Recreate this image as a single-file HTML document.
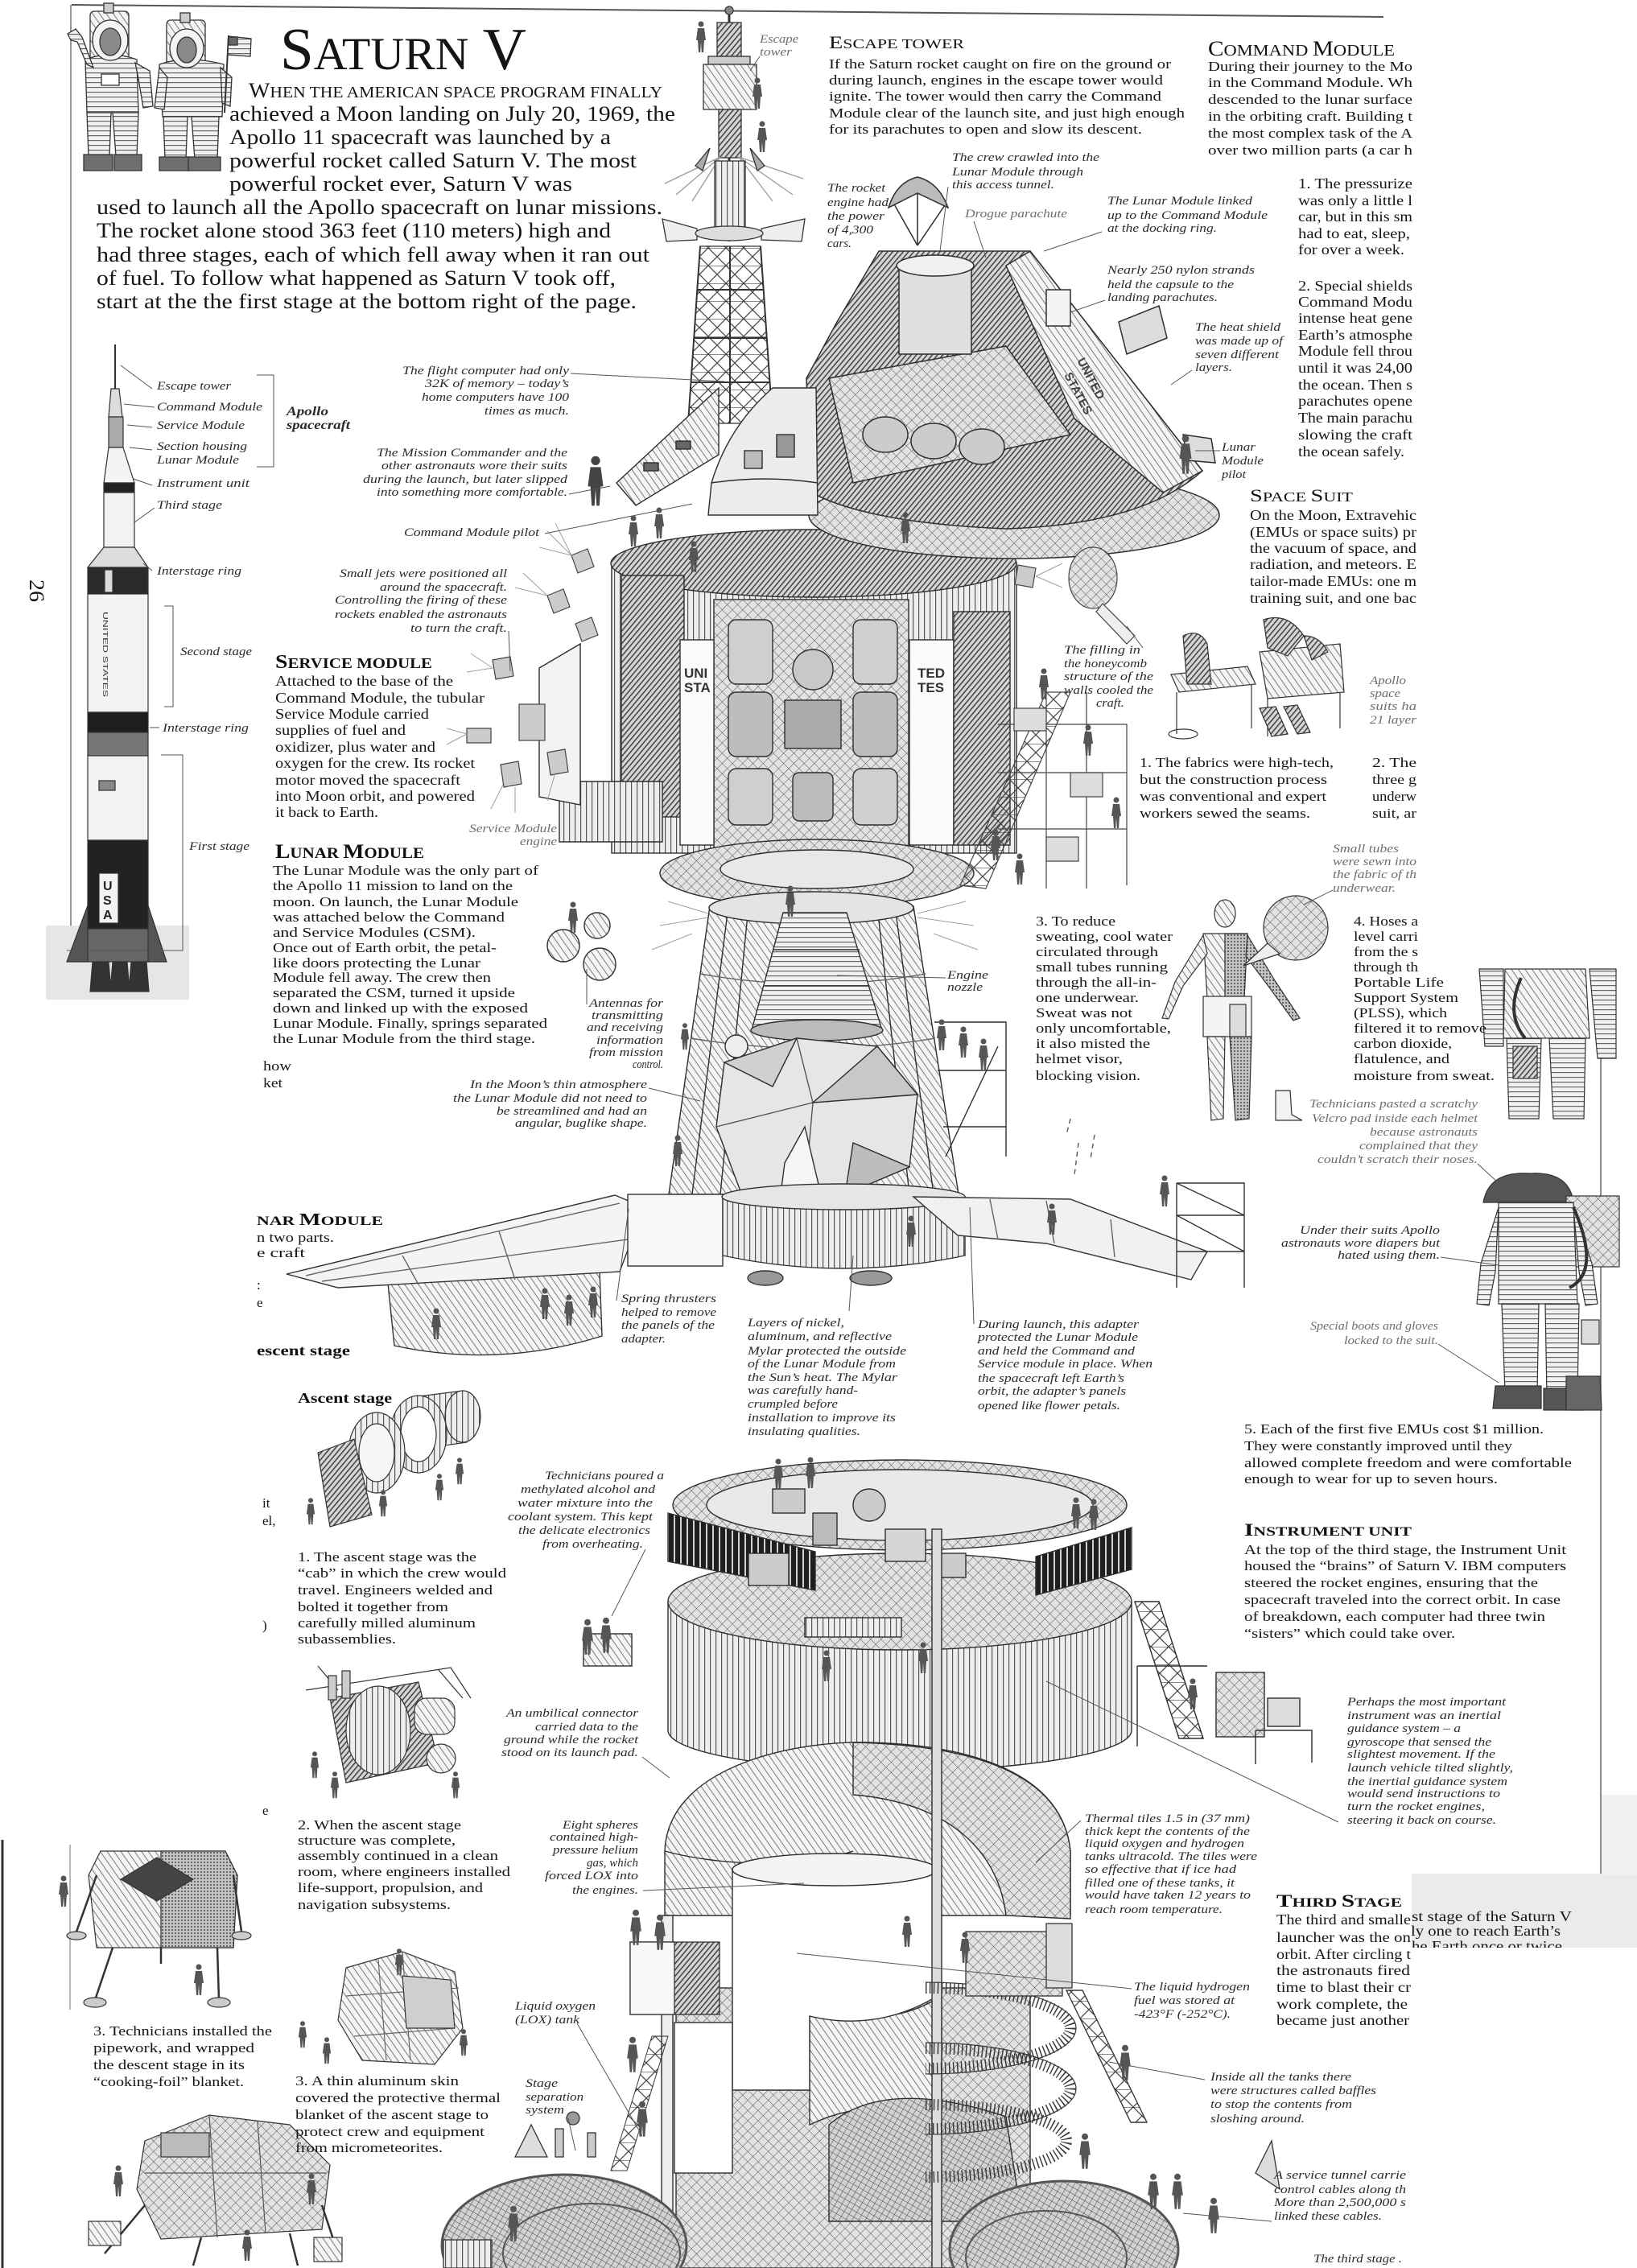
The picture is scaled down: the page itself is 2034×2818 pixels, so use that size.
<!DOCTYPE html>
<html><head><meta charset="utf-8"><title>Saturn V</title>
<style>
html,body{margin:0;padding:0;background:#fff}
svg{display:block}
.t{font-family:"Liberation Serif",serif;fill:#151515}
.b17{font-size:17px}
.b18{font-size:18px}
.in{font-size:26px}
.i{font-family:"Liberation Serif",serif;font-style:italic;fill:#2a2a2a;font-size:15px}
.ig{font-family:"Liberation Serif",serif;font-style:italic;fill:#6e6e6e;font-size:15px}
.hb{font-family:"Liberation Serif",serif;fill:#111;font-weight:bold}
.hr{font-family:"Liberation Serif",serif;fill:#111}
</style></head><body>
<svg width="2034" height="2818" viewBox="0 0 2034 2818" xmlns="http://www.w3.org/2000/svg">
<defs>
<pattern id="hd" width="5" height="5" patternUnits="userSpaceOnUse" patternTransform="rotate(40)"><rect width="5" height="5" fill="#d6d6d6"/><rect width="1.6" height="5" fill="#474747"/></pattern>
<pattern id="hl" width="7" height="7" patternUnits="userSpaceOnUse" patternTransform="rotate(-35)"><rect width="7" height="7" fill="#f5f5f5"/><rect width="1" height="7" fill="#7a7a7a"/></pattern>
<pattern id="vl" width="7" height="10" patternUnits="userSpaceOnUse"><rect width="7" height="10" fill="#eeeeee"/><rect width="1.2" height="10" fill="#555"/></pattern>
<pattern id="vd" width="8" height="10" patternUnits="userSpaceOnUse"><rect width="8" height="10" fill="#1e1e1e"/><rect x="5" width="2" height="10" fill="#d0d0d0"/></pattern>
<pattern id="gr" width="9" height="9" patternUnits="userSpaceOnUse" patternTransform="rotate(45)"><rect width="9" height="9" fill="#e2e2e2"/><path d="M0 0H9M0 0V9" stroke="#555" stroke-width="1"/></pattern>
<pattern id="gd" width="7" height="7" patternUnits="userSpaceOnUse" patternTransform="rotate(30)"><rect width="7" height="7" fill="#d2d2d2"/><path d="M0 0H7M0 0V7" stroke="#444" stroke-width="1"/></pattern>
<pattern id="hz" width="10" height="6" patternUnits="userSpaceOnUse"><rect width="10" height="6" fill="#f2f2f2"/><rect width="10" height="1.2" fill="#666"/></pattern>
<pattern id="dt" width="4" height="4" patternUnits="userSpaceOnUse"><rect width="4" height="4" fill="#c4c4c4"/><circle cx="2" cy="2" r="1" fill="#444"/></pattern>
<pattern id="lat" width="22" height="22" patternUnits="userSpaceOnUse"><path d="M0 0L22 22M22 0L0 22M0 0H22" stroke="#444" stroke-width="1.2" fill="none"/></pattern>
<symbol id="man" viewBox="0 0 14 40"><circle cx="7" cy="4" r="3.5"/><path d="M3,9 H11 L13,24 H11 L10,39 H7.8 L7,26 L6.2,39 H4 L3,24 H1 Z"/></symbol>
<clipPath id="cR"><rect x="1700" y="2300" width="334" height="120"/></clipPath>
</defs>
<rect width="2034" height="2818" fill="#fff"/>

<g fill="none">
<path d="M89,6 L1719,21" stroke="#555" stroke-width="2"/>
<path d="M88,6 V1242" stroke="#777" stroke-width="1.5"/>
<path d="M3,2286 V2818" stroke="#333" stroke-width="3"/>
<path d="M87,2292 V2497" stroke="#888" stroke-width="1.2"/>
<path d="M1989,1250 V2420" stroke="#666" stroke-width="1.5"/>
</g>
<rect x="1754" y="2328" width="280" height="92" fill="#ebebeb"/>
<rect x="1990" y="2230" width="44" height="100" fill="#f1f1f1"/>

<!-- ASTRONAUTS -->
<g stroke="#333" stroke-width="1.3">
 <rect x="112" y="14" width="48" height="62" rx="5" fill="url(#hl)"/>
 <rect x="129" y="4" width="12" height="12" fill="#ccc"/>
 <path d="M106,74 Q137,62 170,74 L172,140 L108,140 Z" fill="url(#hz)"/>
 <ellipse cx="137" cy="50" rx="22" ry="25" fill="#f4f4f4"/>
 <ellipse cx="137" cy="52" rx="13" ry="17" fill="#8a8a8a"/>
 <path d="M108,80 L96,52 L88,50 L84,42 L94,36 L102,46 L116,84 Z" fill="url(#hz)"/>
 <path d="M168,78 L186,88 L190,132 L178,134 L172,98 Z" fill="url(#hz)"/>
 <path d="M108,140 L138,140 L136,194 L110,194 Z" fill="url(#hz)"/>
 <path d="M140,140 L172,140 L170,194 L144,194 Z" fill="url(#hz)"/>
 <path d="M104,192 L140,192 L140,212 L104,212 Z" fill="#6e6e6e"/>
 <path d="M142,192 L176,192 L176,212 L142,212 Z" fill="#6e6e6e"/>
 <rect x="126" y="92" width="22" height="14" fill="#fff"/>
 <rect x="207" y="25" width="48" height="56" rx="5" fill="url(#hl)"/>
 <rect x="224" y="16" width="12" height="12" fill="#ccc"/>
 <path d="M198,80 Q232,68 278,80 L276,145 L202,145 Z" fill="url(#hz)"/>
 <ellipse cx="232" cy="60" rx="21" ry="24" fill="#f4f4f4"/>
 <ellipse cx="232" cy="62" rx="12" ry="16" fill="#8a8a8a"/>
 <path d="M198,84 L192,134 L204,136 L208,96 Z" fill="url(#hz)"/>
 <path d="M274,84 L288,96 L286,132 L276,128 Z" fill="url(#hz)"/>
 <path d="M203,145 L233,145 L231,198 L205,198 Z" fill="url(#hz)"/>
 <path d="M238,145 L272,145 L270,198 L242,198 Z" fill="url(#hz)"/>
 <path d="M198,195 L236,195 L236,212 L198,212 Z" fill="#6e6e6e"/>
 <path d="M234,195 L274,195 L274,212 L234,212 Z" fill="#6e6e6e"/>
 <line x1="284" y1="44" x2="279" y2="140" stroke-width="2"/>
 <path d="M284,45 L312,48 L311,70 L283,68 Z" fill="url(#hz)"/>
 <rect x="284" y="46" width="11" height="10" fill="#666"/>
</g>

<!-- ESCAPE TOWER + LAUNCH TOWER -->
<g stroke="#333" stroke-width="1.3">
 <line x1="906" y1="10" x2="906" y2="300" stroke-width="3"/>
 <circle cx="906" cy="13" r="5" fill="#888"/>
 <rect x="891" y="28" width="30" height="42" fill="url(#hd)"/>
 <rect x="880" y="70" width="52" height="10" fill="#ccc"/>
 <rect x="874" y="80" width="66" height="56" fill="url(#hl)"/>
 <rect x="893" y="136" width="28" height="60" fill="url(#hd)"/>
 <path d="M895,195 L826,228 M895,195 L840,242 M895,195 L860,250 M918,195 L998,222 M918,195 L985,242 M918,195 L960,250" stroke="#9a9a9a" fill="none"/>
 <path d="M882,184 l-18,22 l9,6 z M932,184 l18,22 l-9,6 z" fill="#aaa"/>
 <rect x="888" y="200" width="38" height="85" fill="url(#vl)"/>
 <path d="M866,284 L823,272 L828,300 L866,298 Z M946,284 L1000,272 L996,300 L946,298 Z" fill="#eee"/>
 <ellipse cx="906" cy="290" rx="42" ry="9" fill="#ddd"/>
 <path d="M870,306 L945,306 L960,526 L855,526 Z" fill="url(#lat)"/>
 <path d="M870,306 L855,526 M945,306 L960,526 M907,306 V526 M866,360 H949 M862,420 H953 M858,475 H957" fill="none" stroke-width="2"/>
</g>
<use href="#man" x="864" y="26" width="14" height="40" fill="#555"/>
<use href="#man" x="934" y="96" width="14" height="40" fill="#555"/>
<use href="#man" x="940" y="150" width="14" height="40" fill="#555"/>

<!-- SERVICE MODULE -->
<g stroke="#2e2e2e" stroke-width="1.4">
 <rect x="760" y="700" width="503" height="360" fill="url(#vl)"/>
 <ellipse cx="1011" cy="700" rx="252" ry="42" fill="url(#hd)"/>
 <rect x="772" y="715" width="78" height="300" fill="url(#hd)"/>
 <rect x="887" y="745" width="242" height="330" fill="url(#gr)"/>
 <rect x="905" y="770" width="55" height="80" rx="10" fill="#cfcfcf"/>
 <rect x="905" y="860" width="55" height="80" rx="10" fill="#bdbdbd"/>
 <rect x="1060" y="770" width="55" height="80" rx="10" fill="#cfcfcf"/>
 <rect x="1060" y="860" width="55" height="80" rx="10" fill="#bdbdbd"/>
 <circle cx="1010" cy="832" r="25" fill="#c8c8c8"/>
 <rect x="975" y="870" width="70" height="60" fill="#aaa"/>
 <rect x="985" y="960" width="50" height="60" rx="8" fill="#bbb"/>
 <rect x="905" y="955" width="55" height="70" rx="10" fill="#cfcfcf"/>
 <rect x="1060" y="955" width="55" height="70" rx="10" fill="#cfcfcf"/>
 <rect x="845" y="795" width="42" height="255" fill="#fafafa"/>
 <rect x="1130" y="795" width="55" height="255" fill="#fafafa"/>
 <rect x="1185" y="760" width="70" height="290" fill="url(#hd)"/>
 <path d="M695,971 L823,971 L823,1046 L695,1046 Z" fill="url(#vl)"/>
 <path d="M670,830 L721,800 L721,1000 L670,990 Z" fill="#f3f3f3"/>
 <ellipse cx="1015" cy="1085" rx="195" ry="42" fill="url(#gr)"/>
 <ellipse cx="1015" cy="1080" rx="120" ry="24" fill="#e8e8e8"/>
</g>
<g font-family="Liberation Sans, sans-serif" font-size="17" font-weight="bold" fill="#333">
 <text x="850" y="842">UNI</text><text x="850" y="860">STA</text>
 <text x="1140" y="842">TED</text><text x="1140" y="860">TES</text>
</g>

<!-- BIG COMMAND MODULE -->
<g stroke="#2e2e2e" stroke-width="1.5">
 <ellipse cx="1260" cy="640" rx="255" ry="54" fill="url(#gr)"/>
 <path d="M1092,312 L1280,312 L1494,585 Q1420,652 1250,657 Q1080,650 1008,612 L1002,470 L1040,400 Z" fill="url(#hd)"/>
 <path d="M1280,312 L1494,585 L1445,612 L1335,520 L1250,330 Z" fill="url(#hl)"/>
 <path d="M1030,470 L1250,430 L1330,540 L1060,600 Z" fill="url(#gr)"/>
 <rect x="1117" y="330" width="90" height="110" fill="#e0e0e0"/>
 <ellipse cx="1162" cy="330" rx="48" ry="13" fill="#f0f0f0"/>
 <path d="M1140,305 L1110,252 M1140,305 L1176,252 M1140,305 L1140,228" fill="none"/>
 <path d="M1104,258 Q1114,226 1140,220 Q1166,226 1178,258 L1140,240 Z" fill="#bbb"/>
 <rect x="1300" y="360" width="30" height="45" fill="#f4f4f4"/>
 <ellipse cx="1100" cy="540" rx="28" ry="22" fill="#ccc"/>
 <ellipse cx="1160" cy="548" rx="28" ry="22" fill="#ccc"/>
 <ellipse cx="1220" cy="555" rx="28" ry="22" fill="#ccc"/>
 <path d="M1390,400 L1440,380 L1450,420 L1400,440 Z M1470,540 L1505,545 L1510,575 L1475,572 Z" fill="#ddd"/>
</g>
<text transform="translate(1338,448) rotate(62)" font-family="Liberation Sans,sans-serif" font-size="15" font-weight="bold" fill="#444">UNITED</text>
<text transform="translate(1322,466) rotate(62)" font-family="Liberation Sans,sans-serif" font-size="15" font-weight="bold" fill="#444">STATES</text>
<use href="#man" x="1464" y="540" width="18" height="50" fill="#555"/>

<g stroke="#2e2e2e" stroke-width="1.4">
 <path d="M960,482 L1014,482 L1016,640 L880,640 L884,600 Q905,530 960,482 Z" fill="#ececec"/>
 <path d="M884,600 Q950,590 1016,600" fill="none"/>
 <rect x="965" y="540" width="22" height="28" fill="#999"/>
 <rect x="925" y="560" width="22" height="22" fill="#bbb"/>
 <path d="M766,600 L893,482 L893,565 L790,628 Z" fill="url(#hl)"/>
 <rect x="800" y="575" width="18" height="10" fill="#666"/>
 <rect x="840" y="548" width="18" height="10" fill="#666"/>
</g>
<use href="#man" x="728" y="566" width="24" height="64" fill="#444"/>
<use href="#man" x="780" y="640" width="14" height="40" fill="#555"/>
<use href="#man" x="812" y="630" width="14" height="40" fill="#555"/>
<use href="#man" x="1118" y="636" width="14" height="40" fill="#555"/>
<use href="#man" x="855" y="672" width="14" height="40" fill="#555"/>

<g stroke="#444" stroke-width="1.2" fill="#ccc">
 <path d="M710,690 l20,-8 l8,22 l-20,8 z"/><path d="M680,740 l20,-8 l8,22 l-20,8 z"/>
 <path d="M715,775 l20,-8 l8,22 l-20,8 z"/><path d="M612,820 l22,-4 l4,24 l-22,4 z"/>
 <rect x="645" y="875" width="32" height="45"/><path d="M580,905 l30,0 l0,18 l-30,0 z"/>
 <path d="M622,950 l22,-4 l4,28 l-22,4 z"/><path d="M680,935 l22,-4 l4,28 l-22,4 z"/>
 <path d="M1265,702 l22,4 l-4,24 l-22,-4 z"/>
</g>
<g stroke="#a0a0a0" stroke-width="1" fill="none">
 <path d="M710,690 L680,660 M710,690 L670,680 M710,690 L690,650 M680,740 L640,730 M680,740 L650,712 M612,830 L585,812 M612,830 L580,835 M580,912 L555,905 M580,912 L555,925 M625,975 L610,1005 M640,978 L640,1010 M690,960 L680,995 M1287,716 L1320,700 M1287,716 L1320,730"/>
 <path d="M880,1135 L830,1120 M880,1140 L820,1150 M1140,1135 L1200,1120 M1140,1140 L1210,1150 M860,1160 L810,1180 M1160,1160 L1215,1180"/>
</g>
<g stroke="#444" stroke-width="1.2" fill="none">
 <path d="M1193,1100 L1300,860 L1330,860 L1225,1104 Z" fill="url(#lat)"/>
 <path d="M1240,900 H1400 V1100 M1240,960 H1400 M1240,1030 H1400 M1300,860 V1104 M1350,860 V1104"/>
 <rect x="1260" y="880" width="40" height="28" fill="#ddd"/><rect x="1330" y="960" width="40" height="30" fill="#ddd"/><rect x="1300" y="1040" width="40" height="30" fill="#ddd"/>
 <ellipse cx="1358" cy="718" rx="30" ry="38" fill="url(#gr)"/>
 <path d="M1370,750 L1410,790 L1400,800 L1362,760 Z" fill="#eee"/>
</g>
<use href="#man" x="1290" y="830" width="14" height="40" fill="#555"/>
<use href="#man" x="1345" y="900" width="14" height="40" fill="#555"/>
<use href="#man" x="1380" y="990" width="14" height="40" fill="#555"/>
<use href="#man" x="1230" y="1030" width="14" height="40" fill="#555"/>
<use href="#man" x="1260" y="1060" width="14" height="40" fill="#555"/>

<!-- ENGINE + ADAPTER + LM -->
<g stroke="#2e2e2e" stroke-width="1.4">
 <path d="M882,1126 L1135,1126 L1191,1484 L831,1484 Z" fill="url(#hl)"/>
 <path d="M905,1126 L860,1484 M930,1126 L895,1484 M1112,1126 L1160,1484 M1090,1126 L1130,1484" fill="none"/>
 <path d="M870,1210 Q1010,1235 1150,1210 M858,1290 Q1010,1315 1162,1290" fill="none" stroke="#666"/>
 <ellipse cx="1008" cy="1128" rx="127" ry="20" fill="#e4e4e4"/>
 <path d="M973,1134 L1052,1134 L1096,1280 L934,1280 Z" fill="url(#hz)"/>
 <path d="M960,1180 H1068 M950,1225 H1080" fill="none"/>
 <ellipse cx="1015" cy="1280" rx="82" ry="13" fill="#bbb"/>
 <path d="M900,1320 L990,1290 L1090,1300 L1140,1360 L1130,1450 L1050,1484 L920,1480 L890,1400 Z" fill="#e6e6e6"/>
 <path d="M990,1290 L1010,1370 L1090,1300 M1010,1370 L1140,1360 M1010,1370 L1000,1484 M890,1400 L1010,1370 M1060,1420 L1130,1450" fill="none" stroke="#555"/>
 <path d="M1010,1370 L1090,1300 L1140,1360 Z" fill="#c8c8c8"/>
 <path d="M1060,1420 L1130,1450 L1050,1484 Z" fill="#bdbdbd"/>
 <path d="M900,1320 L990,1290 L960,1350 Z" fill="#d0d0d0"/>
 <path d="M975,1445 L1000,1400 L1020,1484 L970,1484 Z" fill="#f6f6f6"/>
 <circle cx="915" cy="1300" r="14" fill="#eee"/>
 <path d="M1161,1270 L1250,1270 L1250,1437 M1165,1330 H1250 M1172,1400 H1250 M1175,1437 L1240,1300" fill="none"/>
 <circle cx="700" cy="1175" r="20" fill="url(#hl)"/><circle cx="745" cy="1198" r="20" fill="url(#hl)"/><circle cx="742" cy="1150" r="16" fill="url(#hl)"/>
</g>
<use href="#man" x="705" y="1120" width="14" height="40" fill="#555"/>
<use href="#man" x="1163" y="1266" width="14" height="40" fill="#555"/>
<use href="#man" x="1190" y="1275" width="14" height="40" fill="#555"/>
<use href="#man" x="1215" y="1290" width="14" height="40" fill="#555"/>
<use href="#man" x="835" y="1410" width="14" height="40" fill="#555"/>
<use href="#man" x="845" y="1270" width="12" height="36" fill="#555"/>
<use href="#man" x="975" y="1100" width="14" height="40" fill="#555"/>

<!-- ADAPTER PANELS -->
<g stroke="#333" stroke-width="1.4">
 <path d="M482,1595 L745,1578 L748,1660 Q620,1700 490,1672 Z" fill="url(#hl)"/>
 <path d="M356,1583 L764,1485 L800,1500 L770,1580 L420,1600 Z" fill="#f4f4f4"/>
 <path d="M380,1585 L770,1495 M400,1592 L780,1540 M500,1560 L520,1596 M620,1530 L640,1590" fill="none" stroke="#666"/>
 <rect x="780" y="1484" width="118" height="89" fill="#f7f7f7"/>
 <path d="M898,1487 L1199,1487 L1199,1560 Q1048,1592 898,1560 Z" fill="url(#vl)"/>
 <ellipse cx="1048" cy="1487" rx="151" ry="16" fill="#e6e6e6"/>
 <ellipse cx="951" cy="1588" rx="22" ry="9" fill="#999"/><ellipse cx="1082" cy="1588" rx="26" ry="9" fill="#999"/>
 <path d="M1135,1487 L1330,1490 L1500,1555 L1480,1590 L1300,1545 L1190,1535 Z" fill="#f1f1f1"/>
 <path d="M1230,1490 L1240,1540 M1300,1492 L1310,1545 M1380,1515 L1385,1562" fill="none" stroke="#666"/>
 <path d="M1462,1470 H1546 V1600 M1462,1470 V1600 M1462,1510 H1546 M1462,1555 H1546 M1462,1470 L1546,1510 M1462,1510 L1546,1555" fill="none"/>
 <path d="M1340,1420 L1335,1460 M1330,1390 L1325,1410 M1360,1410 L1355,1440" stroke="#555" stroke-dasharray="6 5" fill="none"/>
</g>
<use href="#man" x="670" y="1600" width="14" height="40" fill="#555"/>
<use href="#man" x="700" y="1608" width="14" height="40" fill="#555"/>
<use href="#man" x="730" y="1598" width="14" height="40" fill="#555"/>
<use href="#man" x="535" y="1625" width="14" height="40" fill="#555"/>
<use href="#man" x="1300" y="1495" width="14" height="40" fill="#555"/>
<use href="#man" x="1440" y="1460" width="14" height="40" fill="#555"/>
<use href="#man" x="1125" y="1510" width="14" height="40" fill="#555"/>

<!-- INSTRUMENT UNIT -->
<g stroke="#2e2e2e" stroke-width="1.4">
 <path d="M830,1990 V2150 A288,50 0 0 0 1406,2150 V1990 Z" fill="url(#vl)"/>
 <ellipse cx="1118" cy="1990" rx="288" ry="60" fill="url(#gr)"/>
 <ellipse cx="1118" cy="1870" rx="282" ry="56" fill="url(#gr)"/>
 <ellipse cx="1118" cy="1870" rx="240" ry="44" fill="#e9e9e9"/>
 <path d="M830,1880 L1013,1928 L1013,1976 L830,1940 Z" fill="url(#vd)"/>
 <path d="M1287,1934 L1406,1898 L1406,1950 L1287,1982 Z" fill="url(#vd)"/>
 <rect x="960" y="1850" width="40" height="30" fill="#ccc"/><rect x="1010" y="1880" width="30" height="40" fill="#bbb"/>
 <circle cx="1080" cy="1870" r="20" fill="#ccc"/><rect x="1100" y="1900" width="50" height="40" fill="#d6d6d6"/>
 <rect x="1160" y="1930" width="40" height="30" fill="#ccc"/><rect x="930" y="1930" width="50" height="40" fill="#ccc"/>
 <rect x="1000" y="2010" width="120" height="24" fill="url(#vl)"/>
 <path d="M1410,1990 L1440,1990 L1495,2160 L1465,2160 Z" fill="url(#lat)"/>
 <path d="M1413,2070 H1500 M1413,2070 V2170" fill="none"/>
 <rect x="1511" y="2078" width="60" height="80" fill="url(#gr)"/>
 <rect x="1575" y="2110" width="40" height="35" fill="#ddd"/>
 <path d="M1560,2150 H1630 V2190 M1560,2150 V2192" fill="none"/>
 <rect x="725" y="2030" width="60" height="40" fill="url(#hl)"/>
</g>
<use href="#man" x="722" y="2010" width="16" height="48" fill="#555"/>
<use href="#man" x="745" y="2008" width="16" height="48" fill="#555"/>
<use href="#man" x="1330" y="1860" width="14" height="40" fill="#555"/>
<use href="#man" x="1352" y="1862" width="14" height="40" fill="#555"/>
<use href="#man" x="1475" y="2085" width="14" height="40" fill="#555"/>
<use href="#man" x="960" y="1812" width="14" height="40" fill="#555"/>
<use href="#man" x="1000" y="1810" width="14" height="40" fill="#555"/>
<use href="#man" x="1020" y="2050" width="14" height="40" fill="#555"/>
<use href="#man" x="1140" y="2040" width="14" height="40" fill="#555"/>

<!-- THIRD STAGE -->
<g stroke="#2e2e2e" stroke-width="1.4">
 <path d="M826,2300 C830,2190 1000,2162 1080,2165 C1200,2168 1320,2200 1330,2300 L1330,2380 L826,2380 Z" fill="url(#hl)"/>
 <path d="M1060,2165 C1200,2168 1320,2200 1330,2300 L1330,2384 L1250,2380 C1240,2300 1180,2240 1060,2230 Z" fill="url(#gr)"/>
 <path d="M826,2300 C900,2320 1000,2320 1060,2300" fill="none"/>
 <rect x="840" y="2470" width="440" height="348" fill="url(#gr)"/>
 <path d="M1006,2480 Q1090,2530 1170,2480 L1170,2640 Q1090,2600 1006,2640 Z" fill="url(#hl)"/>
 <path d="M1030,2640 Q1100,2580 1250,2630 L1270,2760 L1030,2760 Z" fill="url(#gd)"/>
 <path d="M910,2323 H1165 V2480 Q1090,2525 1006,2505 V2597 H910 Z" fill="#fff"/>
 <rect x="838" y="2513" width="72" height="187" fill="#fff"/>
 <ellipse cx="1037" cy="2323" rx="127" ry="20" fill="#f4f4f4"/>
 <rect x="1158" y="1900" width="12" height="918" fill="#ddd"/>
 <rect x="822" y="2380" width="14" height="438" fill="#eee"/>
</g>
<g fill="none" stroke="#3a3a3a">
 <path d="M1150,2470 A180,50 0 0 1 1150,2570" stroke-width="14" stroke-dasharray="1.5 3.5"/>
 <path d="M1150,2545 A180,50 0 0 1 1150,2645" stroke-width="14" stroke-dasharray="1.5 3.5"/>
 <path d="M1150,2615 A175,45 0 0 1 1150,2705" stroke-width="14" stroke-dasharray="1.5 3.5"/>
 <path d="M1150,2463 A187,57 0 0 1 1150,2577 M1150,2538 A187,57 0 0 1 1150,2652" stroke-width="1.2"/>
 <path d="M1325,2473 L1405,2637 L1425,2637 L1345,2473 Z" fill="url(#lat)" stroke-width="1.4"/>
 <path d="M759,2697 L810,2530 L830,2530 L779,2697 Z" fill="url(#lat)"/>
</g>
<g stroke="#333" stroke-width="1.3">
 <rect x="783" y="2413" width="111" height="90" fill="url(#hd)"/>
 <rect x="783" y="2413" width="55" height="90" fill="#f8f8f8"/>
 <rect x="1200" y="2400" width="120" height="80" fill="url(#gr)"/>
 <rect x="1300" y="2390" width="32" height="80" fill="#ddd"/>
 <ellipse cx="701" cy="2790" rx="152" ry="88" fill="url(#gd)" stroke="#555" stroke-width="3"/>
 <ellipse cx="735" cy="2800" rx="110" ry="62" fill="none" stroke="#555" stroke-width="2"/>
 <rect x="551" y="2783" width="60" height="35" fill="url(#vl)"/>
 <ellipse cx="1322" cy="2795" rx="142" ry="85" fill="url(#gd)" stroke="#555" stroke-width="3"/>
 <ellipse cx="1300" cy="2805" rx="100" ry="58" fill="none" stroke="#555" stroke-width="2"/>
 <path d="M640,2680 L660,2640 L680,2680 Z M1560,2700 L1580,2660 L1590,2720 Z" fill="#ddd"/>
 <circle cx="712" cy="2632" r="8" fill="#999"/>
 <rect x="690" y="2645" width="10" height="35" fill="#ccc"/><rect x="730" y="2650" width="10" height="30" fill="#ccc"/>
</g>
<use href="#man" x="782" y="2372" width="16" height="46" fill="#555"/>
<use href="#man" x="812" y="2378" width="16" height="46" fill="#555"/>
<use href="#man" x="1120" y="2380" width="14" height="40" fill="#555"/>
<use href="#man" x="1192" y="2400" width="14" height="40" fill="#555"/>
<use href="#man" x="1390" y="2540" width="16" height="46" fill="#555"/>
<use href="#man" x="778" y="2530" width="16" height="46" fill="#555"/>
<use href="#man" x="790" y="2610" width="16" height="46" fill="#555"/>
<use href="#man" x="1340" y="2650" width="16" height="46" fill="#555"/>
<use href="#man" x="1425" y="2700" width="16" height="46" fill="#555"/>
<use href="#man" x="1455" y="2700" width="16" height="46" fill="#555"/>
<use href="#man" x="1500" y="2730" width="16" height="46" fill="#555"/>
<use href="#man" x="630" y="2740" width="16" height="46" fill="#555"/>

<!-- ROCKET DIAGRAM -->
<g stroke="#333" stroke-width="1.2">
 <rect x="57" y="1150" width="178" height="92" fill="#e6e6e6" stroke="none"/>
 <line x1="143" y1="428" x2="143" y2="483" stroke-width="2"/>
 <path d="M138,483 L148,483 L152,518 L135,518 Z" fill="#ddd"/>
 <rect x="135" y="518" width="18" height="38" fill="#aaa"/>
 <path d="M135,556 L153,556 L167,600 L129,600 Z" fill="#f4f4f4"/>
 <rect x="129" y="600" width="38" height="12" fill="#222"/>
 <rect x="129" y="612" width="38" height="68" fill="#f2f2f2"/>
 <path d="M129,680 L167,680 L184,705 L109,705 Z" fill="#ddd"/>
 <rect x="109" y="705" width="75" height="33" fill="#2a2a2a"/>
 <rect x="130" y="708" width="10" height="28" fill="#ddd"/>
 <rect x="109" y="738" width="75" height="147" fill="#f3f3f3"/>
 <rect x="109" y="885" width="75" height="25" fill="#1e1e1e"/>
 <rect x="109" y="910" width="75" height="29" fill="#777"/>
 <rect x="109" y="939" width="75" height="105" fill="#f3f3f3"/>
 <rect x="123" y="970" width="20" height="12" fill="#888"/>
 <rect x="109" y="1044" width="75" height="110" fill="#222"/>
 <rect x="123" y="1085" width="24" height="62" fill="#f3f3f3"/>
 <path d="M109,1125 L83,1195 L109,1195 Z M184,1125 L207,1195 L184,1195 Z" fill="#555"/>
 <rect x="109" y="1154" width="75" height="41" fill="#666"/>
 <path d="M115,1195 L135,1195 L138,1232 L112,1232 Z M140,1195 L158,1195 L161,1232 L137,1232 Z M163,1195 L182,1195 L185,1232 L160,1232 Z" fill="#333"/>
</g>
<text transform="translate(128,760) rotate(90)" font-family="Liberation Sans,sans-serif" font-size="8" fill="#333" textLength="106" lengthAdjust="spacingAndGlyphs">UNITED STATES</text>
<g font-family="Liberation Sans,sans-serif" font-size="16" font-weight="bold" fill="#222"><text x="128" y="1106">U</text><text x="128" y="1124">S</text><text x="128" y="1142">A</text></g>
<g stroke="#555" stroke-width="1" fill="none">
 <path d="M189,483 L150,454 M192,506 L154,502 M189,531 L158,528 M189,559 L161,556 M189,603 L166,595 M192,631 L167,649 M189,709 L178,700 M198,904 L186,904"/>
 <path d="M319,466 H340 V580 H319"/>
 <path d="M204,753 H215 V878 H204"/>
 <path d="M200,938 H227 V1181 H83"/>
</g>

<!-- LEFT LOWER LM PICTURES -->
<g stroke="#333" stroke-width="1.2">
 <path d="M520,1735 L575,1728 L580,1792 L525,1800 Z" fill="url(#vl)"/>
 <ellipse cx="575" cy="1760" rx="22" ry="32" fill="url(#vl)"/>
 <ellipse cx="520" cy="1782" rx="35" ry="48" fill="url(#vl)"/>
 <ellipse cx="520" cy="1782" rx="22" ry="34" fill="#fff"/>
 <ellipse cx="468" cy="1805" rx="35" ry="50" fill="url(#vl)"/>
 <ellipse cx="468" cy="1805" rx="22" ry="36" fill="#f6f6f6"/>
 <path d="M395,1805 L440,1788 L462,1882 L410,1897 Z" fill="url(#hd)"/>
 <path d="M410,2110 L520,2090 L545,2190 L430,2215 Z" fill="url(#hd)"/>
 <ellipse cx="470" cy="2150" rx="40" ry="55" fill="url(#vl)"/>
 <rect x="515" y="2110" width="50" height="45" rx="15" fill="url(#hl)"/>
 <circle cx="548" cy="2185" r="18" fill="url(#hl)"/>
 <path d="M380,2100 L560,2072 L585,2110 M395,2070 L420,2100 M545,2075 L575,2110" fill="none"/>
 <rect x="408" y="2082" width="10" height="30" fill="#ccc"/><rect x="425" y="2076" width="10" height="34" fill="#ccc"/>
 <path d="M430,2445 L500,2425 L565,2450 L575,2520 L540,2565 L450,2560 L420,2510 Z" fill="url(#hl)"/>
 <path d="M470,2435 L480,2560 M430,2480 L570,2470 M500,2425 L510,2560 M440,2530 L565,2520" fill="none" stroke="#666"/>
 <path d="M500,2455 L560,2460 L565,2520 L505,2520 Z" fill="#cfcfcf"/>
 <path d="M125,2300 L280,2300 L295,2330 L290,2420 L120,2420 L110,2330 Z" fill="url(#hl)"/>
 <path d="M200,2300 L280,2300 L295,2330 L290,2420 L200,2420 Z" fill="url(#dt)"/>
 <path d="M150,2335 L195,2308 L240,2335 L195,2362 Z" fill="#444"/>
 <path d="M120,2330 L95,2400 M290,2330 L300,2400 M140,2420 L118,2485 M270,2420 L272,2485 M200,2420 L200,2440" fill="none" stroke-width="2.5"/>
 <ellipse cx="95" cy="2405" rx="12" ry="5" fill="#ccc"/><ellipse cx="300" cy="2405" rx="12" ry="5" fill="#ccc"/>
 <ellipse cx="118" cy="2488" rx="14" ry="6" fill="#ccc"/><ellipse cx="272" cy="2488" rx="14" ry="6" fill="#ccc"/>
 <path d="M180,2660 L260,2628 L360,2640 L410,2690 L400,2770 L200,2782 L170,2720 Z" fill="url(#gr)"/>
 <path d="M260,2628 L270,2780 M180,2700 L405,2700 M320,2636 L330,2775" fill="none" stroke="#555"/>
 <rect x="200" y="2650" width="60" height="30" fill="#bbb"/>
 <path d="M180,2740 L130,2800 M400,2740 L420,2800 M250,2780 L240,2815 M360,2775 L370,2815" fill="none" stroke-width="2.5"/>
 <rect x="110" y="2760" width="40" height="30" fill="url(#hl)"/><rect x="390" y="2780" width="35" height="30" fill="url(#hl)"/>
</g>
<use href="#man" x="470" y="1850" width="12" height="36" fill="#555"/>
<use href="#man" x="540" y="1830" width="12" height="36" fill="#555"/>
<use href="#man" x="565" y="1810" width="12" height="36" fill="#555"/>
<use href="#man" x="380" y="1860" width="12" height="36" fill="#555"/>
<use href="#man" x="385" y="2175" width="12" height="36" fill="#555"/>
<use href="#man" x="410" y="2200" width="12" height="36" fill="#555"/>
<use href="#man" x="560" y="2200" width="12" height="36" fill="#555"/>
<use href="#man" x="370" y="2510" width="12" height="36" fill="#555"/>
<use href="#man" x="400" y="2530" width="12" height="36" fill="#555"/>
<use href="#man" x="570" y="2520" width="12" height="36" fill="#555"/>
<use href="#man" x="490" y="2420" width="12" height="36" fill="#555"/>
<use href="#man" x="240" y="2440" width="14" height="40" fill="#555"/>
<use href="#man" x="72" y="2330" width="14" height="40" fill="#555"/>
<use href="#man" x="140" y="2690" width="14" height="40" fill="#555"/>
<use href="#man" x="380" y="2700" width="14" height="40" fill="#555"/>
<use href="#man" x="300" y="2770" width="14" height="40" fill="#555"/>

<!-- RIGHT SIDE FIGURES -->
<g stroke="#333" stroke-width="1.2">
 <path d="M1455,838 L1550,828 L1560,850 L1465,860 Z" fill="url(#hl)"/>
 <path d="M1462,860 V912 M1555,850 V905" fill="none"/>
 <path d="M1470,790 Q1490,780 1500,800 L1505,850 L1475,850 Z" fill="url(#hd)"/>
 <path d="M1565,810 L1665,800 L1670,860 L1575,868 Z" fill="url(#hl)"/>
 <path d="M1575,868 V915 M1665,860 V905" fill="none"/>
 <path d="M1570,770 Q1600,760 1620,790 L1600,815 L1575,805 Z" fill="url(#hd)"/>
 <path d="M1620,790 Q1640,790 1650,810 L1630,820 Z" fill="url(#hd)"/>
 <path d="M1565,880 L1580,915 L1600,912 L1585,878 Z M1595,878 L1612,912 L1628,910 L1612,876 Z" fill="url(#hd)"/>
 <ellipse cx="1470" cy="912" rx="18" ry="6" fill="none"/>
 <ellipse cx="1522" cy="1135" rx="13" ry="17" fill="url(#hl)"/>
 <path d="M1495,1160 L1550,1160 L1546,1240 L1500,1240 Z" fill="url(#hl)"/>
 <path d="M1522,1160 L1550,1160 L1546,1240 L1522,1240 Z" fill="url(#dt)"/>
 <path d="M1495,1162 L1460,1220 L1444,1265 L1452,1266 L1470,1225 L1500,1185 Z" fill="url(#hl)"/>
 <path d="M1550,1162 L1585,1220 L1615,1265 L1607,1268 L1578,1228 L1548,1188 Z" fill="url(#dt)"/>
 <rect x="1495" y="1238" width="60" height="50" fill="#f4f4f4"/>
 <path d="M1500,1288 L1522,1288 L1520,1390 L1505,1392 Z" fill="url(#hl)"/>
 <path d="M1528,1288 L1555,1288 L1552,1390 L1535,1392 Z" fill="url(#dt)"/>
 <rect x="1528" y="1248" width="20" height="40" fill="#ddd"/>
 <circle cx="1610" cy="1153" r="40" fill="url(#gr)"/>
 <path d="M1575,1172 L1545,1200 L1590,1185 Z" fill="#eee"/>
 <path d="M1585,1355 L1603,1355 L1605,1385 L1618,1392 L1585,1392 Z" fill="#f2f2f2"/>
 <path d="M1870,1204 L1970,1204 L1975,1290 L1868,1290 Z" fill="url(#hl)"/>
 <path d="M1838,1204 L1868,1204 L1868,1300 L1845,1300 Z M1975,1204 L2008,1204 L2008,1315 L1985,1315 Z" fill="url(#hz)"/>
 <path d="M1872,1290 L1915,1290 L1912,1390 L1875,1390 Z M1925,1290 L1970,1290 L1968,1390 L1930,1390 Z" fill="url(#hz)"/>
 <rect x="1880" y="1300" width="30" height="40" fill="url(#hd)"/>
 <path d="M1890,1215 Q1870,1260 1895,1290" fill="none" stroke-width="4"/>
 <path d="M1843,1494 Q1850,1455 1900,1458 Q1950,1455 1955,1494 Z" fill="#555"/>
 <rect x="1946" y="1486" width="66" height="88" fill="url(#gr)"/>
 <path d="M1862,1494 L1955,1494 L1960,1620 L1862,1620 Z" fill="url(#hz)"/>
 <path d="M1862,1500 L1840,1570 L1835,1620 L1850,1622 L1858,1580 Z M1955,1500 L1978,1570 L1985,1620 L1970,1622 L1962,1580 Z" fill="url(#hz)"/>
 <path d="M1866,1620 L1912,1620 L1910,1730 L1870,1730 Z M1920,1620 L1962,1620 L1960,1735 L1922,1735 Z" fill="url(#hz)"/>
 <path d="M1858,1722 L1915,1722 L1915,1750 L1855,1750 Z M1918,1725 L1968,1725 L1968,1752 L1918,1752 Z" fill="#555"/>
 <path d="M1946,1710 L1988,1710 L1990,1752 L1946,1752 Z" fill="#666"/>
 <path d="M1955,1500 Q1990,1580 1950,1600" fill="none" stroke-width="4"/>
 <rect x="1965" y="1640" width="22" height="30" fill="#ddd"/>
</g>

<!-- LEADER LINES -->
<g stroke="#555" stroke-width="1" fill="none">
 <path d="M709,464 L900,474"/>
 <path d="M707,614 L758,604"/>
 <path d="M677,663 L860,626"/>
 <path d="M632,784 L634,834"/>
 <path d="M944,70 L932,88"/>
 <path d="M1178,232 L1168,312"/>
 <path d="M1210,275 L1225,320"/>
 <path d="M1369,288 L1297,312"/>
 <path d="M1373,373 L1330,388"/>
 <path d="M1481,460 L1455,478"/>
 <path d="M1516,560 L1485,560"/>
 <path d="M1400,778 L1420,805"/>
 <path d="M1175,1215 L1040,1212"/>
 <path d="M729,1248 L729,1204"/>
 <path d="M806,1352 L870,1368"/>
 <path d="M766,1616 L781,1502"/>
 <path d="M1055,1629 L1060,1560"/>
 <path d="M1210,1645 L1205,1500"/>
 <path d="M802,1925 L760,2008"/>
 <path d="M798,2183 L832,2209"/>
 <path d="M799,2349 L999,2340"/>
 <path d="M717,2514 L798,2654"/>
 <path d="M706,2632 L715,2672"/>
 <path d="M1343,2262 L1287,2314"/>
 <path d="M1663,2264 L1300,2089"/>
 <path d="M1406,2471 L990,2427"/>
 <path d="M1497,2584 L1378,2562"/>
 <path d="M1580,2760 L1470,2750"/>
 <path d="M1836,1446 L1862,1470"/>
 <path d="M1790,1562 L1862,1572"/>
 <path d="M1787,1670 L1862,1718"/>
 <path d="M1656,1106 L1620,1124"/>
</g>

<!-- TEXT -->
<text class="t" x="348" y="86" textLength="306" lengthAdjust="spacingAndGlyphs" style="font-size:74px">S<tspan font-size="57">ATURN</tspan> V</text>
<text transform="translate(37,720) rotate(90)" class="t" style="font-size:26px" textLength="28" lengthAdjust="spacingAndGlyphs">26</text>

<g class="t in">
<text x="309" y="121" textLength="514" lengthAdjust="spacingAndGlyphs"><tspan font-size="26">W</tspan><tspan font-size="20">HEN THE AMERICAN SPACE PROGRAM FINALLY</tspan></text>
<text x="285" y="150" textLength="554" lengthAdjust="spacingAndGlyphs">achieved a Moon landing on July 20, 1969, the</text>
<text x="285" y="179" textLength="474" lengthAdjust="spacingAndGlyphs">Apollo 11 spacecraft was launched by a</text>
<text x="285" y="208" textLength="506" lengthAdjust="spacingAndGlyphs">powerful rocket called Saturn V. The most</text>
<text x="285" y="237" textLength="426" lengthAdjust="spacingAndGlyphs">powerful rocket ever, Saturn V was</text>
<text x="120" y="266" textLength="703" lengthAdjust="spacingAndGlyphs">used to launch all the Apollo spacecraft on lunar missions.</text>
<text x="120" y="295" textLength="639" lengthAdjust="spacingAndGlyphs">The rocket alone stood 363 feet (110 meters) high and</text>
<text x="120" y="325" textLength="687" lengthAdjust="spacingAndGlyphs">had three stages, each of which fell away when it ran out</text>
<text x="120" y="354" textLength="645" lengthAdjust="spacingAndGlyphs">of fuel. To follow what happened as Saturn V took off,</text>
<text x="120" y="383" textLength="671" lengthAdjust="spacingAndGlyphs">start at the the first stage at the bottom right of the page.</text>
</g>

<text class="hr" x="1030" y="60" textLength="168" lengthAdjust="spacingAndGlyphs"><tspan font-size="22">E</tspan><tspan font-size="17">SCAPE TOWER</tspan></text>
<g class="t b17">
<text x="1030" y="85" textLength="425" lengthAdjust="spacingAndGlyphs">If the Saturn rocket caught on fire on the ground or</text>
<text x="1030" y="105" textLength="415" lengthAdjust="spacingAndGlyphs">during launch, engines in the escape tower would</text>
<text x="1030" y="125" textLength="413" lengthAdjust="spacingAndGlyphs">ignite. The tower would then carry the Command</text>
<text x="1030" y="146" textLength="442" lengthAdjust="spacingAndGlyphs">Module clear of the launch site, and just high enough</text>
<text x="1030" y="166" textLength="389" lengthAdjust="spacingAndGlyphs">for its parachutes to open and slow its descent.</text>
</g>

<text class="hr" x="1501" y="69" textLength="232" lengthAdjust="spacingAndGlyphs"><tspan font-size="26">C</tspan><tspan font-size="20">OMMAND </tspan><tspan font-size="26">M</tspan><tspan font-size="20">ODULE</tspan></text>
<g class="t b17">
<text x="1501" y="88" textLength="254" lengthAdjust="spacingAndGlyphs">During their journey to the Mo</text>
<text x="1501" y="108" textLength="254" lengthAdjust="spacingAndGlyphs">in the Command Module. Wh</text>
<text x="1501" y="129" textLength="254" lengthAdjust="spacingAndGlyphs">descended to the lunar surface</text>
<text x="1501" y="150" textLength="254" lengthAdjust="spacingAndGlyphs">in the orbiting craft. Building t</text>
<text x="1501" y="171" textLength="254" lengthAdjust="spacingAndGlyphs">the most complex task of the A</text>
<text x="1501" y="192" textLength="254" lengthAdjust="spacingAndGlyphs">over two million parts (a car h</text>
</g>
<g class="t b18">
<text x="1613" y="234" textLength="142" lengthAdjust="spacingAndGlyphs">1. The pressurize</text>
<text x="1613" y="255" textLength="142" lengthAdjust="spacingAndGlyphs">was only a little l</text>
<text x="1613" y="275" textLength="142" lengthAdjust="spacingAndGlyphs">car, but in this sm</text>
<text x="1613" y="296" textLength="139" lengthAdjust="spacingAndGlyphs">had to eat, sleep,</text>
<text x="1613" y="316" textLength="132" lengthAdjust="spacingAndGlyphs">for over a week.</text>
<text x="1613" y="361" textLength="142" lengthAdjust="spacingAndGlyphs">2. Special shields</text>
<text x="1613" y="381" textLength="142" lengthAdjust="spacingAndGlyphs">Command Modu</text>
<text x="1613" y="401" textLength="142" lengthAdjust="spacingAndGlyphs">intense heat gene</text>
<text x="1613" y="422" textLength="142" lengthAdjust="spacingAndGlyphs">Earth’s atmosphe</text>
<text x="1613" y="442" textLength="142" lengthAdjust="spacingAndGlyphs">Module fell throu</text>
<text x="1613" y="463" textLength="142" lengthAdjust="spacingAndGlyphs">until it was 24,00</text>
<text x="1613" y="484" textLength="142" lengthAdjust="spacingAndGlyphs">the ocean. Then s</text>
<text x="1613" y="504" textLength="142" lengthAdjust="spacingAndGlyphs">parachutes opene</text>
<text x="1613" y="525" textLength="142" lengthAdjust="spacingAndGlyphs">The main parachu</text>
<text x="1613" y="546" textLength="142" lengthAdjust="spacingAndGlyphs">slowing the craft</text>
<text x="1613" y="567" textLength="132" lengthAdjust="spacingAndGlyphs">the ocean safely.</text>
</g>

<text class="hr" x="1553" y="623" textLength="128" lengthAdjust="spacingAndGlyphs"><tspan font-size="22">S</tspan><tspan font-size="17">PACE </tspan><tspan font-size="22">S</tspan><tspan font-size="17">UIT</tspan></text>
<g class="t b18">
<text x="1553" y="646" textLength="207" lengthAdjust="spacingAndGlyphs">On the Moon, Extravehic</text>
<text x="1553" y="667" textLength="207" lengthAdjust="spacingAndGlyphs">(EMUs or space suits) pr</text>
<text x="1553" y="687" textLength="207" lengthAdjust="spacingAndGlyphs">the vacuum of space, and</text>
<text x="1553" y="707" textLength="207" lengthAdjust="spacingAndGlyphs">radiation, and meteors. E</text>
<text x="1553" y="728" textLength="207" lengthAdjust="spacingAndGlyphs">tailor-made EMUs: one m</text>
<text x="1553" y="749" textLength="207" lengthAdjust="spacingAndGlyphs">training suit, and one bac</text>
</g>
<g class="t b17">
<text x="1416" y="953" textLength="241" lengthAdjust="spacingAndGlyphs">1. The fabrics were high-tech,</text>
<text x="1416" y="974" textLength="233" lengthAdjust="spacingAndGlyphs">but the construction process</text>
<text x="1416" y="995" textLength="232" lengthAdjust="spacingAndGlyphs">was conventional and expert</text>
<text x="1416" y="1016" textLength="212" lengthAdjust="spacingAndGlyphs">workers sewed the seams.</text>
<text x="1705" y="953" textLength="55" lengthAdjust="spacingAndGlyphs">2. The</text>
<text x="1705" y="974" textLength="55" lengthAdjust="spacingAndGlyphs">three g</text>
<text x="1705" y="995" textLength="55" lengthAdjust="spacingAndGlyphs">underw</text>
<text x="1705" y="1016" textLength="55" lengthAdjust="spacingAndGlyphs">suit, ar</text>
<text x="1287" y="1150" textLength="99" lengthAdjust="spacingAndGlyphs">3. To reduce</text>
<text x="1287" y="1169" textLength="170" lengthAdjust="spacingAndGlyphs">sweating, cool water</text>
<text x="1287" y="1188" textLength="152" lengthAdjust="spacingAndGlyphs">circulated through</text>
<text x="1287" y="1207" textLength="164" lengthAdjust="spacingAndGlyphs">small tubes running</text>
<text x="1287" y="1226" textLength="150" lengthAdjust="spacingAndGlyphs">through the all-in-</text>
<text x="1287" y="1245" textLength="128" lengthAdjust="spacingAndGlyphs">one underwear.</text>
<text x="1287" y="1264" textLength="120" lengthAdjust="spacingAndGlyphs">Sweat was not</text>
<text x="1287" y="1283" textLength="168" lengthAdjust="spacingAndGlyphs">only uncomfortable,</text>
<text x="1287" y="1302" textLength="142" lengthAdjust="spacingAndGlyphs">it also misted the</text>
<text x="1287" y="1321" textLength="108" lengthAdjust="spacingAndGlyphs">helmet visor,</text>
<text x="1287" y="1342" textLength="130" lengthAdjust="spacingAndGlyphs">blocking vision.</text>
<text x="1682" y="1150" textLength="80" lengthAdjust="spacingAndGlyphs">4. Hoses a</text>
<text x="1682" y="1169" textLength="80" lengthAdjust="spacingAndGlyphs">level carri</text>
<text x="1682" y="1188" textLength="80" lengthAdjust="spacingAndGlyphs">from the s</text>
<text x="1682" y="1207" textLength="80" lengthAdjust="spacingAndGlyphs">through th</text>
<text x="1682" y="1226" textLength="112" lengthAdjust="spacingAndGlyphs">Portable Life</text>
<text x="1682" y="1245" textLength="130" lengthAdjust="spacingAndGlyphs">Support System</text>
<text x="1682" y="1264" textLength="116" lengthAdjust="spacingAndGlyphs">(PLSS), which</text>
<text x="1682" y="1283" textLength="165" lengthAdjust="spacingAndGlyphs">filtered it to remove</text>
<text x="1682" y="1302" textLength="122" lengthAdjust="spacingAndGlyphs">carbon dioxide,</text>
<text x="1682" y="1321" textLength="119" lengthAdjust="spacingAndGlyphs">flatulence, and</text>
<text x="1682" y="1342" textLength="175" lengthAdjust="spacingAndGlyphs">moisture from sweat.</text>
<text x="1546" y="1781" textLength="372" lengthAdjust="spacingAndGlyphs">5. Each of the first five EMUs cost $1 million.</text>
<text x="1546" y="1802" textLength="333" lengthAdjust="spacingAndGlyphs">They were constantly improved until they</text>
<text x="1546" y="1823" textLength="407" lengthAdjust="spacingAndGlyphs">allowed complete freedom and were comfortable</text>
<text x="1546" y="1843" textLength="315" lengthAdjust="spacingAndGlyphs">enough to wear for up to seven hours.</text>
</g>

<text class="hb" x="1546" y="1908" textLength="208" lengthAdjust="spacingAndGlyphs"><tspan font-size="22">I</tspan><tspan font-size="16">NSTRUMENT UNIT</tspan></text>
<g class="t b17">
<text x="1546" y="1931" textLength="400" lengthAdjust="spacingAndGlyphs">At the top of the third stage, the Instrument Unit</text>
<text x="1546" y="1951" textLength="400" lengthAdjust="spacingAndGlyphs">housed the “brains” of Saturn V. IBM computers</text>
<text x="1546" y="1972" textLength="365" lengthAdjust="spacingAndGlyphs">steered the rocket engines, ensuring that the</text>
<text x="1546" y="1993" textLength="393" lengthAdjust="spacingAndGlyphs">spacecraft traveled into the correct orbit. In case</text>
<text x="1546" y="2014" textLength="374" lengthAdjust="spacingAndGlyphs">of breakdown, each computer had three twin</text>
<text x="1546" y="2035" textLength="262" lengthAdjust="spacingAndGlyphs">“sisters” which could take over.</text>
</g>

<rect x="1574" y="2322" width="180" height="205" fill="#fff"/>
<text class="hb" x="1586" y="2369" textLength="156" lengthAdjust="spacingAndGlyphs"><tspan font-size="22">T</tspan><tspan font-size="16">HIRD </tspan><tspan font-size="22">S</tspan><tspan font-size="16">TAGE</tspan></text>
<g class="t b18">
<text x="1586" y="2391" textLength="167" lengthAdjust="spacingAndGlyphs">The third and smalle</text>
<text x="1586" y="2413" textLength="167" lengthAdjust="spacingAndGlyphs">launcher was the on</text>
<text x="1586" y="2434" textLength="167" lengthAdjust="spacingAndGlyphs">orbit. After circling t</text>
<text x="1586" y="2454" textLength="166" lengthAdjust="spacingAndGlyphs">the astronauts fired</text>
<text x="1586" y="2475" textLength="167" lengthAdjust="spacingAndGlyphs">time to blast their cr</text>
<text x="1586" y="2496" textLength="163" lengthAdjust="spacingAndGlyphs">work complete, the</text>
<text x="1586" y="2516" textLength="165" lengthAdjust="spacingAndGlyphs">became just another</text>
<g clip-path="url(#cR)">
<text x="1754" y="2387" textLength="199" lengthAdjust="spacingAndGlyphs">st stage of the Saturn V</text>
<text x="1753" y="2405" textLength="186" lengthAdjust="spacingAndGlyphs">ly one to reach Earth’s</text>
<text x="1754" y="2424" textLength="187" lengthAdjust="spacingAndGlyphs">he Earth once or twice</text>
</g>
</g>

<text class="hb" x="342" y="830" textLength="195" lengthAdjust="spacingAndGlyphs"><tspan font-size="24">S</tspan><tspan font-size="18">ERVICE MODULE</tspan></text>
<g class="t b18">
<text x="342" y="852" textLength="221" lengthAdjust="spacingAndGlyphs">Attached to the base of the</text>
<text x="342" y="873" textLength="260" lengthAdjust="spacingAndGlyphs">Command Module, the tubular</text>
<text x="342" y="893" textLength="191" lengthAdjust="spacingAndGlyphs">Service Module carried</text>
<text x="342" y="913" textLength="162" lengthAdjust="spacingAndGlyphs">supplies of fuel and</text>
<text x="342" y="934" textLength="199" lengthAdjust="spacingAndGlyphs">oxidizer, plus water and</text>
<text x="342" y="954" textLength="248" lengthAdjust="spacingAndGlyphs">oxygen for the crew. Its rocket</text>
<text x="342" y="975" textLength="230" lengthAdjust="spacingAndGlyphs">motor moved the spacecraft</text>
<text x="342" y="995" textLength="248" lengthAdjust="spacingAndGlyphs">into Moon orbit, and powered</text>
<text x="342" y="1015" textLength="128" lengthAdjust="spacingAndGlyphs">it back to Earth.</text>
</g>
<text class="hb" x="342" y="1066" textLength="185" lengthAdjust="spacingAndGlyphs"><tspan font-size="25">L</tspan><tspan font-size="19">UNAR </tspan><tspan font-size="25">M</tspan><tspan font-size="19">ODULE</tspan></text>
<g class="t b17">
<text x="339" y="1087" textLength="330" lengthAdjust="spacingAndGlyphs">The Lunar Module was the only part of</text>
<text x="339" y="1106" textLength="298" lengthAdjust="spacingAndGlyphs">the Apollo 11 mission to land on the</text>
<text x="339" y="1126" textLength="305" lengthAdjust="spacingAndGlyphs">moon. On launch, the Lunar Module</text>
<text x="339" y="1145" textLength="288" lengthAdjust="spacingAndGlyphs">was attached below the Command</text>
<text x="339" y="1164" textLength="252" lengthAdjust="spacingAndGlyphs">and Service Modules (CSM).</text>
<text x="339" y="1183" textLength="278" lengthAdjust="spacingAndGlyphs">Once out of Earth orbit, the petal-</text>
<text x="339" y="1202" textLength="258" lengthAdjust="spacingAndGlyphs">like doors protecting the Lunar</text>
<text x="339" y="1220" textLength="271" lengthAdjust="spacingAndGlyphs">Module fell away. The crew then</text>
<text x="339" y="1239" textLength="301" lengthAdjust="spacingAndGlyphs">separated the CSM, turned it upside</text>
<text x="339" y="1258" textLength="317" lengthAdjust="spacingAndGlyphs">down and linked up with the exposed</text>
<text x="339" y="1277" textLength="341" lengthAdjust="spacingAndGlyphs">Lunar Module. Finally, springs separated</text>
<text x="339" y="1296" textLength="326" lengthAdjust="spacingAndGlyphs">the Lunar Module from the third stage.</text>
<text x="327" y="1330" textLength="35" lengthAdjust="spacingAndGlyphs">how</text>
<text x="327" y="1351" textLength="24" lengthAdjust="spacingAndGlyphs">ket</text>
</g>
<text class="hb" x="319" y="1522" textLength="157" lengthAdjust="spacingAndGlyphs"><tspan font-size="16">NAR </tspan><tspan font-size="21">M</tspan><tspan font-size="16">ODULE</tspan></text>
<g class="t b17">
<text x="319" y="1543" textLength="96" lengthAdjust="spacingAndGlyphs">n two parts.</text>
<text x="319" y="1562" textLength="60" lengthAdjust="spacingAndGlyphs">e craft</text>
<text x="319" y="1602">:</text>
<text x="319" y="1624">e</text>
<text x="326" y="1873">it</text>
<text x="326" y="1895">el,</text>
<text x="326" y="2025">)</text>
<text x="326" y="2255">e</text>
</g>
<text class="hb" x="319" y="1684" font-size="18" textLength="116" lengthAdjust="spacingAndGlyphs">escent stage</text>
<text class="hb" x="370" y="1743" font-size="18" textLength="117" lengthAdjust="spacingAndGlyphs">Ascent stage</text>
<g class="t b17">
<text x="370" y="1940" textLength="222" lengthAdjust="spacingAndGlyphs">1. The ascent stage was the</text>
<text x="370" y="1960" textLength="259" lengthAdjust="spacingAndGlyphs">“cab” in which the crew would</text>
<text x="370" y="1981" textLength="242" lengthAdjust="spacingAndGlyphs">travel. Engineers welded and</text>
<text x="370" y="2002" textLength="187" lengthAdjust="spacingAndGlyphs">bolted it together from</text>
<text x="370" y="2022" textLength="221" lengthAdjust="spacingAndGlyphs">carefully milled aluminum</text>
<text x="370" y="2042" textLength="122" lengthAdjust="spacingAndGlyphs">subassemblies.</text>
<text x="370" y="2273" textLength="203" lengthAdjust="spacingAndGlyphs">2. When the ascent stage</text>
<text x="370" y="2292" textLength="196" lengthAdjust="spacingAndGlyphs">structure was complete,</text>
<text x="370" y="2311" textLength="249" lengthAdjust="spacingAndGlyphs">assembly continued in a clean</text>
<text x="370" y="2331" textLength="264" lengthAdjust="spacingAndGlyphs">room, where engineers installed</text>
<text x="370" y="2351" textLength="230" lengthAdjust="spacingAndGlyphs">life-support, propulsion, and</text>
<text x="370" y="2372" textLength="190" lengthAdjust="spacingAndGlyphs">navigation subsystems.</text>
<text x="116" y="2529" textLength="222" lengthAdjust="spacingAndGlyphs">3. Technicians installed the</text>
<text x="116" y="2550" textLength="200" lengthAdjust="spacingAndGlyphs">pipework, and wrapped</text>
<text x="116" y="2571" textLength="188" lengthAdjust="spacingAndGlyphs">the descent stage in its</text>
<text x="116" y="2592" textLength="187" lengthAdjust="spacingAndGlyphs">“cooking-foil” blanket.</text>
<text x="367" y="2591" textLength="203" lengthAdjust="spacingAndGlyphs">3. A thin aluminum skin</text>
<text x="367" y="2612" textLength="255" lengthAdjust="spacingAndGlyphs">covered the protective thermal</text>
<text x="367" y="2633" textLength="240" lengthAdjust="spacingAndGlyphs">blanket of the ascent stage to</text>
<text x="367" y="2654" textLength="235" lengthAdjust="spacingAndGlyphs">protect crew and equipment</text>
<text x="367" y="2674" textLength="183" lengthAdjust="spacingAndGlyphs">from micrometeorites.</text>
</g>

<g class="ig">
<text x="944" y="53" textLength="48" lengthAdjust="spacingAndGlyphs">Escape</text>
<text x="944" y="69" textLength="40" lengthAdjust="spacingAndGlyphs">tower</text>
<text x="1199" y="270" textLength="127" lengthAdjust="spacingAndGlyphs">Drogue parachute</text>
<text x="583" y="1034" textLength="109" lengthAdjust="spacingAndGlyphs">Service Module</text>
<text x="646" y="1050" textLength="46" lengthAdjust="spacingAndGlyphs">engine</text>
<text x="1702" y="850" textLength="45" lengthAdjust="spacingAndGlyphs">Apollo</text>
<text x="1702" y="866" textLength="38" lengthAdjust="spacingAndGlyphs">space</text>
<text x="1702" y="882" textLength="58" lengthAdjust="spacingAndGlyphs">suits ha</text>
<text x="1702" y="899" textLength="58" lengthAdjust="spacingAndGlyphs">21 layer</text>
<text x="1656" y="1059" textLength="82" lengthAdjust="spacingAndGlyphs">Small tubes</text>
<text x="1656" y="1075" textLength="104" lengthAdjust="spacingAndGlyphs">were sewn into</text>
<text x="1656" y="1091" textLength="104" lengthAdjust="spacingAndGlyphs">the fabric of th</text>
<text x="1656" y="1108" textLength="78" lengthAdjust="spacingAndGlyphs">underwear.</text>
<text x="1627" y="1376" textLength="209" lengthAdjust="spacingAndGlyphs">Technicians pasted a scratchy</text>
<text x="1630" y="1394" textLength="206" lengthAdjust="spacingAndGlyphs">Velcro pad inside each helmet</text>
<text x="1702" y="1411" textLength="134" lengthAdjust="spacingAndGlyphs">because astronauts</text>
<text x="1689" y="1428" textLength="147" lengthAdjust="spacingAndGlyphs">complained that they</text>
<text x="1637" y="1445" textLength="199" lengthAdjust="spacingAndGlyphs">couldn’t scratch their noses.</text>
<text x="1628" y="1652" textLength="159" lengthAdjust="spacingAndGlyphs">Special boots and gloves</text>
<text x="1670" y="1670" textLength="117" lengthAdjust="spacingAndGlyphs">locked to the suit.</text>
</g>
<g class="i">
<text x="195" y="484" textLength="92" lengthAdjust="spacingAndGlyphs">Escape tower</text>
<text x="195" y="510" textLength="131" lengthAdjust="spacingAndGlyphs">Command Module</text>
<text x="195" y="533" textLength="109" lengthAdjust="spacingAndGlyphs">Service Module</text>
<text x="195" y="559" textLength="112" lengthAdjust="spacingAndGlyphs">Section housing</text>
<text x="195" y="576" textLength="102" lengthAdjust="spacingAndGlyphs">Lunar Module</text>
<text x="195" y="605" textLength="115" lengthAdjust="spacingAndGlyphs">Instrument unit</text>
<text x="195" y="632" textLength="81" lengthAdjust="spacingAndGlyphs">Third stage</text>
<text x="195" y="714" textLength="105" lengthAdjust="spacingAndGlyphs">Interstage ring</text>
<text x="224" y="814" textLength="89" lengthAdjust="spacingAndGlyphs">Second stage</text>
<text x="202" y="909" textLength="107" lengthAdjust="spacingAndGlyphs">Interstage ring</text>
<text x="235" y="1056" textLength="75" lengthAdjust="spacingAndGlyphs">First stage</text>
<text x="356" y="516" font-weight="bold" font-size="16" textLength="52" lengthAdjust="spacingAndGlyphs">Apollo</text>
<text x="356" y="533" font-weight="bold" font-size="16" textLength="79" lengthAdjust="spacingAndGlyphs">spacecraft</text>

<text x="500" y="465" textLength="207" lengthAdjust="spacingAndGlyphs">The flight computer had only</text>
<text x="528" y="481" textLength="179" lengthAdjust="spacingAndGlyphs">32K of memory – today’s</text>
<text x="524" y="498" textLength="183" lengthAdjust="spacingAndGlyphs">home computers have 100</text>
<text x="602" y="515" textLength="105" lengthAdjust="spacingAndGlyphs">times as much.</text>
<text x="468" y="567" textLength="237" lengthAdjust="spacingAndGlyphs">The Mission Commander and the</text>
<text x="474" y="583" textLength="231" lengthAdjust="spacingAndGlyphs">other astronauts wore their suits</text>
<text x="451" y="600" textLength="254" lengthAdjust="spacingAndGlyphs">during the launch, but later slipped</text>
<text x="468" y="616" textLength="237" lengthAdjust="spacingAndGlyphs">into something more comfortable.</text>
<text x="502" y="666" textLength="168" lengthAdjust="spacingAndGlyphs">Command Module pilot</text>
<text x="422" y="717" textLength="208" lengthAdjust="spacingAndGlyphs">Small jets were positioned all</text>
<text x="472" y="734" textLength="158" lengthAdjust="spacingAndGlyphs">around the spacecraft.</text>
<text x="416" y="750" textLength="214" lengthAdjust="spacingAndGlyphs">Controlling the firing of these</text>
<text x="416" y="768" textLength="214" lengthAdjust="spacingAndGlyphs">rockets enabled the astronauts</text>
<text x="510" y="785" textLength="120" lengthAdjust="spacingAndGlyphs">to turn the craft.</text>
<text x="732" y="1251" textLength="92" lengthAdjust="spacingAndGlyphs">Antennas for</text>
<text x="735" y="1266" textLength="89" lengthAdjust="spacingAndGlyphs">transmitting</text>
<text x="729" y="1281" textLength="95" lengthAdjust="spacingAndGlyphs">and receiving</text>
<text x="741" y="1297" textLength="83" lengthAdjust="spacingAndGlyphs">information</text>
<text x="732" y="1312" textLength="92" lengthAdjust="spacingAndGlyphs">from mission</text>
<text x="786" y="1327" textLength="38" lengthAdjust="spacingAndGlyphs">control.</text>
<text x="584" y="1352" textLength="220" lengthAdjust="spacingAndGlyphs">In the Moon’s thin atmosphere</text>
<text x="563" y="1369" textLength="241" lengthAdjust="spacingAndGlyphs">the Lunar Module did not need to</text>
<text x="617" y="1385" textLength="187" lengthAdjust="spacingAndGlyphs">be streamlined and had an</text>
<text x="640" y="1400" textLength="164" lengthAdjust="spacingAndGlyphs">angular, buglike shape.</text>

<text x="1183" y="200" textLength="183" lengthAdjust="spacingAndGlyphs">The crew crawled into the</text>
<text x="1183" y="218" textLength="163" lengthAdjust="spacingAndGlyphs">Lunar Module through</text>
<text x="1183" y="234" textLength="127" lengthAdjust="spacingAndGlyphs">this access tunnel.</text>
<text x="1028" y="238" textLength="72" lengthAdjust="spacingAndGlyphs">The rocket</text>
<text x="1028" y="256" textLength="76" lengthAdjust="spacingAndGlyphs">engine had</text>
<text x="1028" y="273" textLength="71" lengthAdjust="spacingAndGlyphs">the power</text>
<text x="1028" y="290" textLength="57" lengthAdjust="spacingAndGlyphs">of 4,300</text>
<text x="1028" y="307" textLength="30" lengthAdjust="spacingAndGlyphs">cars.</text>
<text x="1376" y="254" textLength="180" lengthAdjust="spacingAndGlyphs">The Lunar Module linked</text>
<text x="1376" y="272" textLength="199" lengthAdjust="spacingAndGlyphs">up to the Command Module</text>
<text x="1376" y="288" textLength="136" lengthAdjust="spacingAndGlyphs">at the docking ring.</text>
<text x="1376" y="340" textLength="183" lengthAdjust="spacingAndGlyphs">Nearly 250 nylon strands</text>
<text x="1376" y="358" textLength="157" lengthAdjust="spacingAndGlyphs">held the capsule to the</text>
<text x="1376" y="374" textLength="137" lengthAdjust="spacingAndGlyphs">landing parachutes.</text>
<text x="1485" y="411" textLength="106" lengthAdjust="spacingAndGlyphs">The heat shield</text>
<text x="1485" y="428" textLength="109" lengthAdjust="spacingAndGlyphs">was made up of</text>
<text x="1485" y="445" textLength="104" lengthAdjust="spacingAndGlyphs">seven different</text>
<text x="1485" y="461" textLength="46" lengthAdjust="spacingAndGlyphs">layers.</text>
<text x="1518" y="560" textLength="42" lengthAdjust="spacingAndGlyphs">Lunar</text>
<text x="1518" y="577" textLength="52" lengthAdjust="spacingAndGlyphs">Module</text>
<text x="1518" y="594" textLength="30" lengthAdjust="spacingAndGlyphs">pilot</text>
<text x="1322" y="812" textLength="95" lengthAdjust="spacingAndGlyphs">The filling in</text>
<text x="1322" y="829" textLength="103" lengthAdjust="spacingAndGlyphs">the honeycomb</text>
<text x="1322" y="845" textLength="111" lengthAdjust="spacingAndGlyphs">structure of the</text>
<text x="1322" y="862" textLength="111" lengthAdjust="spacingAndGlyphs">walls cooled the</text>
<text x="1362" y="878" textLength="35" lengthAdjust="spacingAndGlyphs">craft.</text>
<text x="1177" y="1216" textLength="51" lengthAdjust="spacingAndGlyphs">Engine</text>
<text x="1177" y="1231" textLength="44" lengthAdjust="spacingAndGlyphs">nozzle</text>
<text x="1615" y="1533" textLength="174" lengthAdjust="spacingAndGlyphs">Under their suits Apollo</text>
<text x="1592" y="1549" textLength="197" lengthAdjust="spacingAndGlyphs">astronauts wore diapers but</text>
<text x="1662" y="1564" textLength="127" lengthAdjust="spacingAndGlyphs">hated using them.</text>

<text x="772" y="1618" textLength="118" lengthAdjust="spacingAndGlyphs">Spring thrusters</text>
<text x="772" y="1635" textLength="118" lengthAdjust="spacingAndGlyphs">helped to remove</text>
<text x="772" y="1651" textLength="116" lengthAdjust="spacingAndGlyphs">the panels of the</text>
<text x="772" y="1668" textLength="55" lengthAdjust="spacingAndGlyphs">adapter.</text>
<text x="929" y="1648" textLength="120" lengthAdjust="spacingAndGlyphs">Layers of nickel,</text>
<text x="929" y="1665" textLength="179" lengthAdjust="spacingAndGlyphs">aluminum, and reflective</text>
<text x="929" y="1683" textLength="197" lengthAdjust="spacingAndGlyphs">Mylar protected the outside</text>
<text x="929" y="1699" textLength="184" lengthAdjust="spacingAndGlyphs">of the Lunar Module from</text>
<text x="929" y="1716" textLength="186" lengthAdjust="spacingAndGlyphs">the Sun’s heat. The Mylar</text>
<text x="929" y="1732" textLength="137" lengthAdjust="spacingAndGlyphs">was carefully hand-</text>
<text x="929" y="1749" textLength="112" lengthAdjust="spacingAndGlyphs">crumpled before</text>
<text x="929" y="1766" textLength="184" lengthAdjust="spacingAndGlyphs">installation to improve its</text>
<text x="929" y="1783" textLength="140" lengthAdjust="spacingAndGlyphs">insulating qualities.</text>
<text x="1215" y="1650" textLength="200" lengthAdjust="spacingAndGlyphs">During launch, this adapter</text>
<text x="1215" y="1666" textLength="199" lengthAdjust="spacingAndGlyphs">protected the Lunar Module</text>
<text x="1215" y="1683" textLength="195" lengthAdjust="spacingAndGlyphs">and held the Command and</text>
<text x="1215" y="1699" textLength="217" lengthAdjust="spacingAndGlyphs">Service module in place. When</text>
<text x="1215" y="1717" textLength="182" lengthAdjust="spacingAndGlyphs">the spacecraft left Earth’s</text>
<text x="1215" y="1733" textLength="184" lengthAdjust="spacingAndGlyphs">orbit, the adapter’s panels</text>
<text x="1215" y="1751" textLength="177" lengthAdjust="spacingAndGlyphs">opened like flower petals.</text>

<text x="677" y="1838" textLength="148" lengthAdjust="spacingAndGlyphs">Technicians poured a</text>
<text x="647" y="1855" textLength="167" lengthAdjust="spacingAndGlyphs">methylated alcohol and</text>
<text x="643" y="1872" textLength="168" lengthAdjust="spacingAndGlyphs">water mixture into the</text>
<text x="631" y="1889" textLength="180" lengthAdjust="spacingAndGlyphs">coolant system. This kept</text>
<text x="644" y="1906" textLength="164" lengthAdjust="spacingAndGlyphs">the delicate electronics</text>
<text x="674" y="1923" textLength="125" lengthAdjust="spacingAndGlyphs">from overheating.</text>
<text x="629" y="2133" textLength="164" lengthAdjust="spacingAndGlyphs">An umbilical connector</text>
<text x="665" y="2150" textLength="128" lengthAdjust="spacingAndGlyphs">carried data to the</text>
<text x="626" y="2166" textLength="167" lengthAdjust="spacingAndGlyphs">ground while the rocket</text>
<text x="623" y="2182" textLength="170" lengthAdjust="spacingAndGlyphs">stood on its launch pad.</text>
<text x="699" y="2272" textLength="94" lengthAdjust="spacingAndGlyphs">Eight spheres</text>
<text x="683" y="2287" textLength="110" lengthAdjust="spacingAndGlyphs">contained high-</text>
<text x="687" y="2303" textLength="106" lengthAdjust="spacingAndGlyphs">pressure helium</text>
<text x="729" y="2319" textLength="64" lengthAdjust="spacingAndGlyphs">gas, which</text>
<text x="677" y="2335" textLength="116" lengthAdjust="spacingAndGlyphs">forced LOX into</text>
<text x="711" y="2353" textLength="82" lengthAdjust="spacingAndGlyphs">the engines.</text>
<text x="640" y="2497" textLength="100" lengthAdjust="spacingAndGlyphs">Liquid oxygen</text>
<text x="640" y="2514" textLength="80" lengthAdjust="spacingAndGlyphs">(LOX) tank</text>
<text x="653" y="2593" textLength="40" lengthAdjust="spacingAndGlyphs">Stage</text>
<text x="653" y="2610" textLength="72" lengthAdjust="spacingAndGlyphs">separation</text>
<text x="653" y="2626" textLength="48" lengthAdjust="spacingAndGlyphs">system</text>

<text x="1674" y="2119" textLength="197" lengthAdjust="spacingAndGlyphs">Perhaps the most important</text>
<text x="1674" y="2136" textLength="191" lengthAdjust="spacingAndGlyphs">instrument was an inertial</text>
<text x="1674" y="2152" textLength="141" lengthAdjust="spacingAndGlyphs">guidance system – a</text>
<text x="1674" y="2169" textLength="179" lengthAdjust="spacingAndGlyphs">gyroscope that sensed the</text>
<text x="1674" y="2184" textLength="184" lengthAdjust="spacingAndGlyphs">slightest movement. If the</text>
<text x="1674" y="2201" textLength="206" lengthAdjust="spacingAndGlyphs">launch vehicle tilted slightly,</text>
<text x="1674" y="2218" textLength="199" lengthAdjust="spacingAndGlyphs">the inertial guidance system</text>
<text x="1674" y="2233" textLength="190" lengthAdjust="spacingAndGlyphs">would send instructions to</text>
<text x="1674" y="2249" textLength="171" lengthAdjust="spacingAndGlyphs">turn the rocket engines,</text>
<text x="1674" y="2266" textLength="185" lengthAdjust="spacingAndGlyphs">steering it back on course.</text>
<text x="1348" y="2264" textLength="205" lengthAdjust="spacingAndGlyphs">Thermal tiles 1.5 in (37 mm)</text>
<text x="1348" y="2280" textLength="205" lengthAdjust="spacingAndGlyphs">thick kept the contents of the</text>
<text x="1348" y="2295" textLength="198" lengthAdjust="spacingAndGlyphs">liquid oxygen and hydrogen</text>
<text x="1348" y="2311" textLength="214" lengthAdjust="spacingAndGlyphs">tanks ultracold. The tiles were</text>
<text x="1348" y="2327" textLength="188" lengthAdjust="spacingAndGlyphs">so effective that if ice had</text>
<text x="1348" y="2344" textLength="186" lengthAdjust="spacingAndGlyphs">filled one of these tanks, it</text>
<text x="1348" y="2359" textLength="206" lengthAdjust="spacingAndGlyphs">would have taken 12 years to</text>
<text x="1348" y="2377" textLength="171" lengthAdjust="spacingAndGlyphs">reach room temperature.</text>
<text x="1409" y="2473" textLength="144" lengthAdjust="spacingAndGlyphs">The liquid hydrogen</text>
<text x="1409" y="2490" textLength="125" lengthAdjust="spacingAndGlyphs">fuel was stored at</text>
<text x="1409" y="2507" textLength="120" lengthAdjust="spacingAndGlyphs">-423°F (-252°C).</text>
<text x="1504" y="2585" textLength="175" lengthAdjust="spacingAndGlyphs">Inside all the tanks there</text>
<text x="1504" y="2602" textLength="206" lengthAdjust="spacingAndGlyphs">were structures called baffles</text>
<text x="1504" y="2619" textLength="176" lengthAdjust="spacingAndGlyphs">to stop the contents from</text>
<text x="1504" y="2637" textLength="117" lengthAdjust="spacingAndGlyphs">sloshing around.</text>
<text x="1583" y="2707" textLength="164" lengthAdjust="spacingAndGlyphs">A service tunnel carrie</text>
<text x="1583" y="2725" textLength="164" lengthAdjust="spacingAndGlyphs">control cables along th</text>
<text x="1583" y="2741" textLength="164" lengthAdjust="spacingAndGlyphs">More than 2,500,000 s</text>
<text x="1583" y="2758" textLength="134" lengthAdjust="spacingAndGlyphs">linked these cables.</text>
<text x="1632" y="2811" textLength="110" lengthAdjust="spacingAndGlyphs">The third stage .</text>
</g>
</svg>
</body></html>
